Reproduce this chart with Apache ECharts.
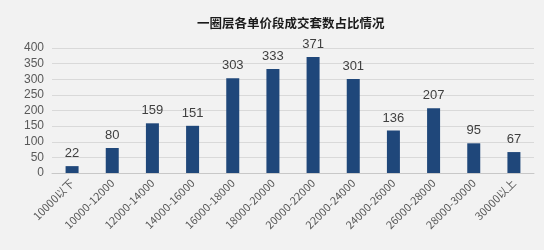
<!DOCTYPE html>
<html><head><meta charset="utf-8">
<script src="https://cdn.jsdelivr.net/npm/echarts@6/dist/echarts.min.js"></script>
<style>html,body{margin:0;padding:0;background:#f2f2f2;}#c{width:544px;height:250px;}</style>
</head><body><div id="c"></div>
<script>
const title = '一圈层各单价段成交套数占比情况';
const categories = ['10000以下','10000-12000','12000-14000','14000-16000','16000-18000','18000-20000','20000-22000','22000-24000','24000-26000','26000-28000','28000-30000','30000以上'];
const values = [22,80,159,151,303,333,371,301,136,207,95,67];
const yTicks = [0,50,100,150,200,250,300,350,400];

const chart = echarts.init(document.getElementById('c'), null, {renderer:'canvas'});
chart.setOption({
  backgroundColor:'#f2f2f2',
  animation:false,
  title:{text:title,left:192,top:12,textStyle:{fontSize:12.5,fontWeight:'bold',color:'#1a1a1a',fontFamily:'Noto Sans CJK SC'}},
  grid:{left:52,right:10,top:48,bottom:77},
  xAxis:{type:'category',data:categories,
    axisLine:{lineStyle:{color:'#c8c8c8'}},axisTick:{show:false},
    axisLabel:{rotate:45,interval:0,fontSize:11,color:'#595959',margin:8,fontFamily:'Noto Sans CJK SC'}},
  yAxis:{type:'value',min:yTicks[0],max:yTicks[yTicks.length-1],interval:50,
    axisLine:{show:false},axisTick:{show:false},
    axisLabel:{fontSize:12,color:'#595959',margin:8,fontFamily:'Liberation Sans'},
    splitLine:{lineStyle:{color:'#d9d9d9'}}},
  series:[{type:'bar',data:values,barWidth:13,itemStyle:{color:'#1f477a'},
    label:{show:true,position:'top',fontSize:13,color:'#404040',distance:6,fontFamily:'Liberation Sans'}}]
});
</script></body></html>
